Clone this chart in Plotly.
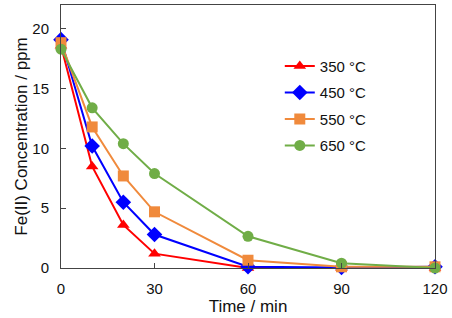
import plotly.graph_objects as go

time_min = [0, 10, 20, 30, 60, 90, 120]
c350 = [18.6, 8.5, 3.6, 1.2, 0.0, 0.0, 0.0]
c450 = [19.1, 10.2, 5.5, 2.8, 0.1, 0.05, 0.1]
c550 = [18.85, 11.8, 7.7, 4.7, 0.65, 0.1, 0.1]
c650 = [18.3, 13.4, 10.4, 7.9, 2.65, 0.4, 0.0]
labels = ["350 °C", "450 °C", "550 °C", "650 °C"]
x_ticks = [0, 30, 60, 90, 120]
y_ticks = [0, 5, 10, 15, 20]

series = [
    (c350, "#ff0000", "triangle-up", 11),
    (c450, "#0000ff", "diamond", 12),
    (c550, "#f08a3c", "square", 11),
    (c650, "#70ad47", "circle", 11),
]

fig = go.Figure()
for (vals, col, sym, size), name in zip(series, labels):
    fig.add_trace(go.Scatter(
        x=time_min, y=vals, name=name, legendgroup=name, mode="lines+markers",
        line=dict(color=col, width=2),
        marker=dict(symbol=sym, size=size, color=col),
    ))

fig.update_layout(
    width=452, height=318,
    margin=dict(l=61, r=17, t=5, b=50),
    paper_bgcolor="white", plot_bgcolor="white",
    font=dict(family="Liberation Sans, Arial, sans-serif", size=15, color="#111"),
    showlegend=True,
    legend=dict(x=0.585, y=0.83, xanchor="left", yanchor="top",
                bgcolor="rgba(0,0,0,0)", font=dict(size=15),
                itemwidth=30, tracegroupgap=4),
    xaxis=dict(range=[0, 120], tickvals=x_ticks, ticks="inside", ticklen=5,
               tickcolor="#444", showline=True, linecolor="#444", linewidth=1,
               mirror=True, showgrid=False, zeroline=False, ticklabelstandoff=7,
               title=dict(text="Time / min", font=dict(size=17), standoff=2),
               tickfont=dict(size=15)),
    yaxis=dict(range=[0, 22], tickvals=y_ticks, ticks="inside", ticklen=5,
               tickcolor="#444", showline=True, linecolor="#444", linewidth=1,
               mirror=True, showgrid=False, zeroline=False, ticklabelstandoff=8,
               title=dict(text="Fe(II) Concentration / ppm", font=dict(size=17), standoff=0),
               tickfont=dict(size=15)),
)
fig.update_traces(cliponaxis=False)

fig.write_html("out.html")
